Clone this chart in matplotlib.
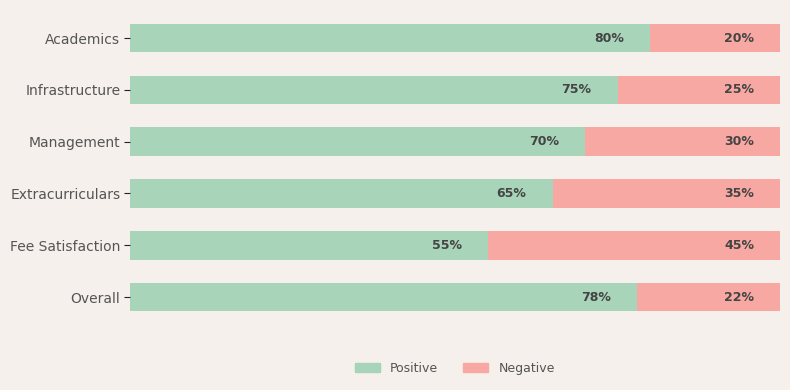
import matplotlib
matplotlib.use("Agg")
import matplotlib.pyplot as plt
from matplotlib.patches import Patch

categories = ["Academics", "Infrastructure", "Management", "Extracurriculars", "Fee Satisfaction", "Overall"]
positive = [80, 75, 70, 65, 55, 78]
negative = [20, 25, 30, 35, 45, 22]

pos_color = "#a8d5ba"
neg_color = "#f7a8a3"
bg = "#f5f0eb"

fig = plt.figure(figsize=(7.9, 3.9), dpi=100, facecolor=bg)
ax = fig.add_axes([130/790, 1-323/390, 650/790, (323-12.1)/390])
ax.set_facecolor(bg)

y = list(range(len(categories)))
ax.barh(y, positive, height=0.55, color=pos_color, label="Positive")
ax.barh(y, negative, left=positive, height=0.55, color=neg_color, label="Negative")

for i, (p, n) in enumerate(zip(positive, negative)):
    ax.text(p - 6.3, i, f"{p}%", ha="center", va="center", fontsize=9, fontweight="bold", color="#444444")
    ax.text(p + n - 6.3, i, f"{n}%", ha="center", va="center", fontsize=9, fontweight="bold", color="#444444")

ax.set_xlim(0, 100)
ax.set_ylim(len(categories) - 0.5, -0.5)
ax.set_yticks(y)
ax.set_yticklabels(categories, fontsize=10, color="#555555")
ax.set_xticks([])
for s in ax.spines.values():
    s.set_visible(False)
ax.tick_params(axis="y", length=4, color="#222222", pad=3)

handles = [Patch(color=pos_color, label="Positive"), Patch(color=neg_color, label="Negative")]
fig.legend(handles=handles, loc="center", bbox_to_anchor=(455/790, 1-368.5/390), ncol=2, frameon=False,
           fontsize=9, labelcolor="#555555", handlelength=2.0, handleheight=0.7, columnspacing=2.0)

fig.savefig("out.png", dpi=100, facecolor=bg)
